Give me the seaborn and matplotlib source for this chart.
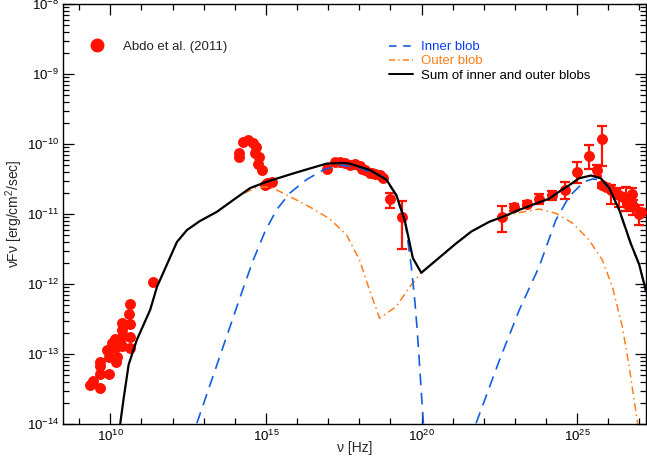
#!/usr/bin/env python3
"""Two-blob SED model vs. Abdo et al. (2011) data."""

import matplotlib

matplotlib.use("Agg")
import matplotlib.pyplot as plt
import numpy as np
import pandas as pd
import seaborn as sns
from matplotlib.lines import Line2D
from matplotlib.ticker import FixedLocator, LogLocator, LogFormatterSciNotation, NullFormatter

# ---- data (log10 nu [Hz], log10 nuFnu [erg/cm2/s]) ----
obs_log_nu = [
    9.36, 9.43, 9.68, 9.68, 9.68, 9.68, 9.89, 9.95, 9.95, 10.05, 10.16, 10.16,
    10.19, 10.21, 10.37, 10.37, 10.37, 10.37, 10.59, 10.64, 10.64, 10.64, 10.64,
    11.36,
    14.15, 14.15, 14.27, 14.43, 14.59, 14.68, 14.65, 14.79, 14.75, 14.86, 15.02,
    15.18, 14.97, 15.10,
    16.95, 17.21, 17.37, 17.53, 17.85, 18.01, 18.17, 18.33, 18.49, 18.65, 18.76,
    17.70, 18.10, 18.40,
]
obs_log_flux = [
    -13.44, -13.38, -13.11, -13.17, -13.28, -13.49, -12.94, -13.04, -13.28,
    -12.84, -12.78, -12.92, -13.12, -13.04, -12.56, -12.66, -12.75, -12.89,
    -12.43, -12.29, -12.57, -12.75, -12.92,
    -11.97,
    -10.18, -10.13, -9.97, -9.94, -9.98, -10.04, -10.13, -10.18, -10.28,
    -10.37, -10.56, -10.54, -10.59, -10.56,
    -10.35, -10.25, -10.25, -10.27, -10.28, -10.32, -10.37, -10.41, -10.43,
    -10.44, -10.48, -10.30, -10.36, -10.42,
]

# points with error bars: log nu, log flux, log lower, log upper
err_log_nu = [
    18.97, 19.38,
    22.59, 22.98, 23.39, 23.78, 24.19, 24.60, 24.99, 25.38, 25.62, 25.79,
    25.81, 25.92, 26.08, 26.24, 26.35, 26.47, 26.56, 26.61, 26.77, 26.79,
    26.99, 27.04,
]
err_log_flux = [
    -10.79, -11.04,
    -11.04, -10.90, -10.85, -10.79, -10.73, -10.66, -10.40, -10.17, -10.37,
    -9.93, -10.59, -10.61, -10.66, -10.70, -10.73, -10.76, -10.78, -10.85,
    -10.72, -10.88, -11.00, -10.97,
]
err_log_lo = [
    -10.92, -11.50,
    -11.25, -10.96, -10.88, -10.86, -10.80, -10.78, -10.56, -10.36, -10.45,
    -10.31, -10.63, -10.65, -10.85, -10.74, -10.90, -10.80, -10.96, -10.96,
    -10.82, -11.01, -11.16, -11.01,
]
err_log_hi = [
    -10.70, -10.82,
    -10.89, -10.85, -10.82, -10.72, -10.67, -10.54, -10.25, -10.02, -10.30,
    -9.74, -10.55, -10.57, -10.59, -10.66, -10.63, -10.72, -10.61, -10.75,
    -10.63, -10.80, -10.87, -10.93,
]

sum_log_nu = [
    10.32, 10.43, 10.59, 10.85, 11.28, 11.50, 11.82, 12.14, 12.46, 12.88, 13.42,
    13.95, 14.49, 15.02, 15.88, 16.41, 16.95, 17.48, 17.69, 18.33, 18.87, 19.19,
    19.46, 19.72, 19.99, 20.47, 21.11, 21.60, 22.18, 22.61, 23.14, 23.68, 24.10,
    24.42, 24.74, 25.06, 25.44, 25.76, 26.03, 26.35, 26.72, 26.99, 27.21,
]
sum_log_flux = [
    -13.99, -13.63, -13.15, -12.80, -12.37, -12.04, -11.72, -11.40, -11.23,
    -11.10, -10.97, -10.80, -10.63, -10.54, -10.42, -10.35, -10.28, -10.27,
    -10.28, -10.37, -10.51, -10.73, -11.09, -11.63, -11.84, -11.66, -11.42,
    -11.25, -11.11, -11.04, -10.94, -10.85, -10.78, -10.68, -10.59, -10.49,
    -10.45, -10.49, -10.63, -10.94, -11.42, -11.72, -12.10,
]

inner_low_log_nu = [
    12.78, 14.27, 14.59, 14.97, 15.34, 15.77, 16.30, 16.84, 17.37, 18.01, 18.76,
    19.08, 19.19, 19.46, 19.51, 19.67, 19.78, 19.86, 20.06,
]
inner_low_log_flux = [
    -13.99, -12.06, -11.66, -11.25, -10.94, -10.70, -10.51, -10.37, -10.30,
    -10.34, -10.47, -10.66, -10.75, -11.10, -11.23, -11.75, -12.23, -12.66,
    -14.00,
]
inner_high_log_nu = [
    21.75, 22.50, 23.14, 23.78, 24.31, 24.74, 25.22, 25.49, 25.76, 26.03, 26.35,
    26.72, 26.99, 27.21,
]
inner_high_log_flux = [
    -13.99, -13.09, -12.37, -11.75, -11.09, -10.75, -10.54, -10.50, -10.51,
    -10.64, -10.95, -11.43, -11.72, -12.12,
]

outer_log_nu = [
    13.42, 13.95, 14.17, 14.70, 15.13, 15.77, 16.41, 17.05, 17.59, 18.01, 18.33,
    18.65, 19.19, 19.62, 19.99, 20.47, 21.11, 21.60, 22.18, 22.61, 23.14, 23.78,
    24.31, 24.85, 25.38, 25.81, 26.13, 26.45, 26.67, 26.83, 26.94,
]
outer_log_flux = [
    -10.97, -10.80, -10.73, -10.62, -10.61, -10.75, -10.90, -11.07, -11.30,
    -11.66, -12.09, -12.49, -12.32, -12.04, -11.84, -11.66, -11.42, -11.25,
    -11.11, -11.04, -10.98, -10.93, -10.99, -11.13, -11.37, -11.66, -12.04,
    -12.61, -13.18, -13.66, -13.99,
]

RED = "#ff1200"
BLUE = "#1060dd"
ORANGE = "#ff7d1a"


def main() -> None:
    sns.set_theme(style="ticks")
    plt.rcParams["font.family"] = ["Liberation Sans", "DejaVu Sans"]
    plt.rcParams["mathtext.fontset"] = "custom"
    plt.rcParams["mathtext.rm"] = "Liberation Sans"
    plt.rcParams["mathtext.it"] = "Liberation Sans:italic"
    plt.rcParams["mathtext.bf"] = "Liberation Sans:bold"

    fig = plt.figure(figsize=(6.47, 4.65), dpi=100)
    ax = fig.add_axes([63 / 647, 1 - 424 / 465, 583 / 647, 420 / 465])

    obs = pd.DataFrame({"nu": 10 ** np.array(obs_log_nu), "flux": 10 ** np.array(obs_log_flux)})
    err = pd.DataFrame({
        "nu": 10 ** np.array(err_log_nu),
        "flux": 10 ** np.array(err_log_flux),
        "lo": 10 ** np.array(err_log_lo),
        "hi": 10 ** np.array(err_log_hi),
    })

    ax.errorbar(err["nu"], err["flux"],
                yerr=[err["flux"] - err["lo"], err["hi"] - err["flux"]],
                fmt="none", ecolor=RED, elinewidth=1.6, capsize=3.5, capthick=1.6, zorder=2)
    sns.scatterplot(data=pd.concat([obs, err[["nu", "flux"]]]), x="nu", y="flux",
                    color=RED, s=62, linewidth=0, ax=ax, zorder=3)

    ax.plot(10 ** np.array(outer_log_nu), 10 ** np.array(outer_log_flux),
            color=ORANGE, lw=1.1, dashes=(5, 2.5, 1, 2.5), zorder=4)
    ax.plot(10 ** np.array(inner_low_log_nu), 10 ** np.array(inner_low_log_flux),
            color=BLUE, lw=1.2, dashes=(7, 4.5), zorder=4)
    ax.plot(10 ** np.array(inner_high_log_nu), 10 ** np.array(inner_high_log_flux),
            color=BLUE, lw=1.2, dashes=(7, 4.5), zorder=4)
    sns.lineplot(x=10 ** np.array(sum_log_nu), y=10 ** np.array(sum_log_flux),
                 sort=False, estimator=None, color="black", lw=1.6, ax=ax, zorder=5)

    ax.set_xscale("log")
    ax.set_yscale("log")
    ax.set_xlim(10 ** 8.48, 10 ** 27.21)
    ax.set_ylim(1e-14, 1e-8)

    ax.xaxis.set_major_locator(FixedLocator([1e10, 1e15, 1e20, 1e25]))
    ax.xaxis.set_major_formatter(LogFormatterSciNotation())
    ax.xaxis.set_minor_locator(FixedLocator([10.0 ** k for k in range(9, 28)]))
    ax.xaxis.set_minor_formatter(NullFormatter())
    ax.yaxis.set_major_locator(LogLocator(base=10, numticks=20))
    ax.yaxis.set_minor_locator(LogLocator(base=10, subs=np.arange(2, 10), numticks=20))
    ax.yaxis.set_minor_formatter(NullFormatter())

    ax.tick_params(which="both", direction="in", top=True, right=True, colors="black",
                   labelsize=9.5, width=0.9)
    ax.tick_params(which="major", length=8)
    ax.tick_params(which="minor", length=4)
    ax.tick_params(axis="y", pad=3)
    for spine in ax.spines.values():
        spine.set_visible(True)
        spine.set_linewidth(1.0)
        spine.set_color("black")

    ax.set_xlabel("ν [Hz]", fontsize=10, labelpad=-2)
    ax.set_ylabel("νFν [erg/cm$^2$/sec]", fontsize=10, labelpad=1)

    leg1 = ax.legend(
        handles=[Line2D([], [], marker="o", ls="none", color=RED, markersize=9)],
        labels=["Abdo et al. (2011)"], loc="center left", bbox_to_anchor=(0.035, 0.898),
        frameon=False, fontsize=9.5, handletextpad=1.0, borderaxespad=0, borderpad=0,
    )
    ax.add_artist(leg1)
    line_handles = [
        Line2D([], [], color=BLUE, lw=1.2, dashes=(4.5, 4)),
        Line2D([], [], color=ORANGE, lw=1.1, dashes=(4, 2, 1, 2)),
        Line2D([], [], color="black", lw=1.4),
    ]
    ax.legend(
        handles=line_handles,
        labels=["Inner blob", "Outer blob", "Sum of inner and outer blobs"],
        loc="upper left", bbox_to_anchor=(0.56, 0.912), frameon=False, fontsize=9.5,
        handlelength=1.8, handletextpad=0.6, labelspacing=0.15,
        labelcolor=["#0a3cff", ORANGE, "black"], borderaxespad=0, borderpad=0,
    )

    fig.savefig("out.png", dpi=100)
    plt.close(fig)


if __name__ == "__main__":
    main()
